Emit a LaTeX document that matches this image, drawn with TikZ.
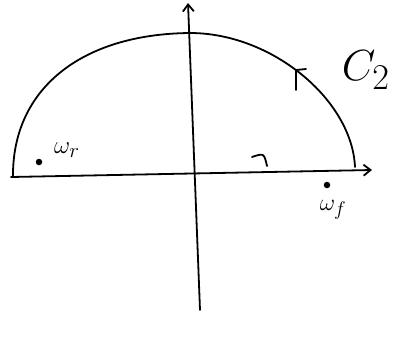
\documentclass[tikz,border=0pt]{standalone}
\usetikzlibrary{arrows.meta}
\begin{document}
\begin{tikzpicture}[x=1pt,y=-1pt,
  ink/.style={line width=1.8pt,line cap=round,line join=round,black},
  axisarrow/.style={ink,-{Straight Barb[length=7pt,width=11pt]}},
  dotmark/.style={circle,fill=black,inner sep=0pt,minimum size=6.5pt},
  lbl/.style={inner sep=0pt}]
\useasboundingbox (0,0) rectangle (411,341);
% axes
\coordinate (vb) at (200,310);
\coordinate (vt) at (188,3);
\coordinate (hl) at (11,177);
\coordinate (hr) at (372,170);
\draw[axisarrow] (vb) -- (vt);
\draw[axisarrow] (hl) -- (hr);
% semicircular contour
\coordinate (al) at (13,177);
\coordinate (atop) at (190,33);
\coordinate (ar) at (355,167);
\draw[ink] (al) .. controls (12,90) and (80,34) .. (atop)
  .. controls (272,33) and (352,100) .. (ar);
% direction marks
\coordinate (m1a) at (296,90);
\coordinate (m1t) at (296,70);
\coordinate (m1b) at (306,69);
\draw[ink] (m1a) -- (m1t) -- (m1b);
\coordinate (m2a) at (252,157);
\coordinate (m2b) at (267,166);
\draw[ink] (m2a) .. controls (264,153) .. (m2b);
% points
\node[dotmark] (wr) at (39,162) {};
\node[lbl,anchor=west,font=\Huge] (wrl) at (54,150) {$\omega_r$};
\node[dotmark] (wf) at (327,185) {};
\node[lbl,font=\Huge,scale=0.95] (wfl) at (333,210) {$\omega_f$};
\node[lbl,font=\Huge,scale=1.75] (c2) at (366,70) {$C_2$};
\end{tikzpicture}
\end{document}
